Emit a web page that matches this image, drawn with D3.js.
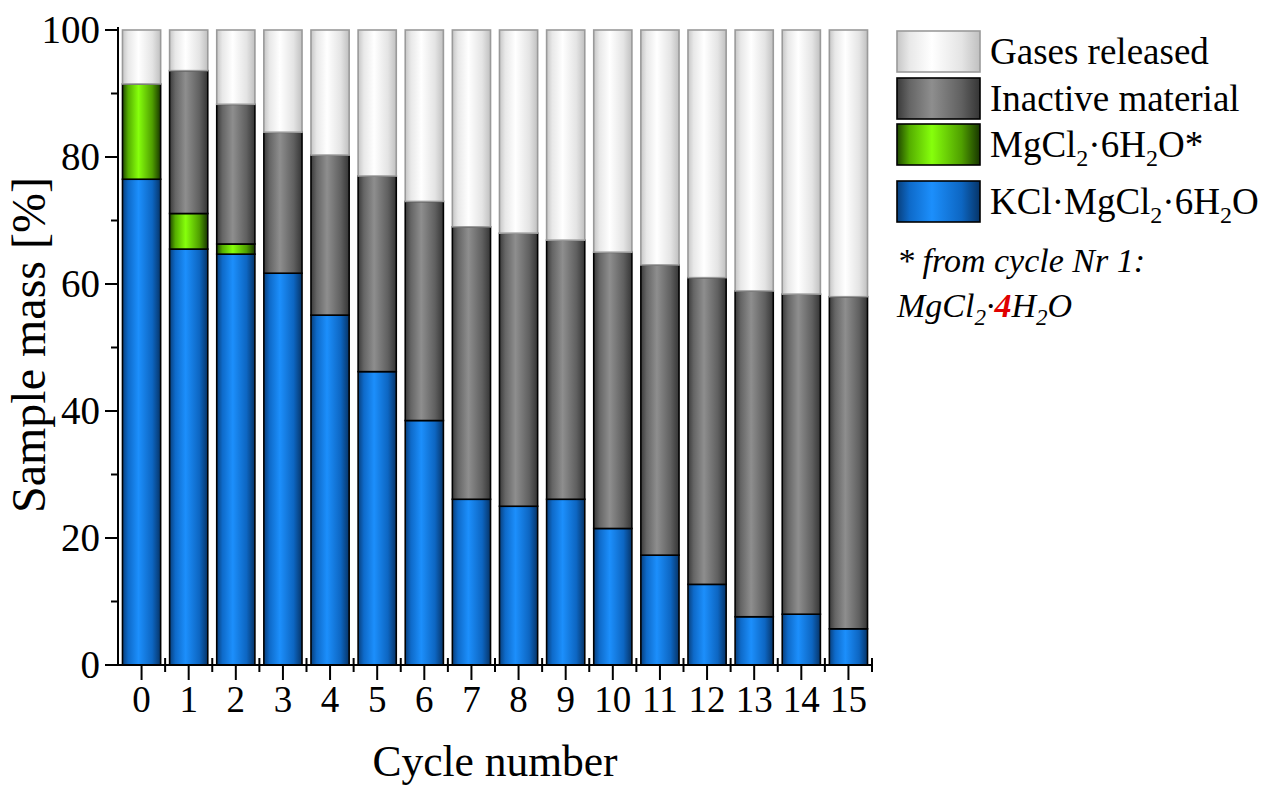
<!DOCTYPE html>
<html>
<head>
<meta charset="utf-8">
<script src="https://cdn.jsdelivr.net/npm/d3@7"></script>
<style>
  html, body { margin: 0; padding: 0; background: #ffffff; }
  svg { display: block; font-family: "Liberation Serif", "Times New Roman", serif; }
</style>
</head>
<body>
<svg id="chart" width="1276" height="787"></svg>
<script>
// Sample mass composition per dehydration/hydration cycle [%]
const cycles   = ["0","1","2","3","4","5","6","7","8","9","10","11","12","13","14","15"];
const kcl      = [76.5, 65.5, 64.7, 61.7, 55.1, 46.2, 38.5, 26.1, 25.0, 26.1, 21.5, 17.3, 12.7, 7.6, 8.0, 5.7];
const mgcl     = [15.0, 5.6, 1.6, 0, 0, 0, 0, 0, 0, 0, 0, 0, 0, 0, 0, 0];
const inactive = [0, 22.5, 22.0, 22.2, 25.2, 30.8, 34.5, 42.9, 43.0, 40.8, 43.5, 45.7, 48.3, 51.3, 50.4, 52.3];
const gases    = [8.5, 6.4, 11.7, 16.1, 19.7, 23.0, 27.0, 31.0, 32.0, 33.1, 35.0, 37.0, 39.0, 41.1, 41.6, 42.0];
const yTicks   = [0, 20, 40, 60, 80, 100];

const keys = ["kcl", "mgcl", "inactive", "gases"];
const rows = cycles.map((c, i) => ({ cycle: c, kcl: kcl[i], mgcl: mgcl[i], inactive: inactive[i], gases: gases[i] }));

const svg = d3.select("#chart");
const plot = { left: 118, right: 872, top: 30, bottom: 665 };

const x = d3.scaleBand().domain(cycles).range([plot.left, plot.right]).paddingInner(0.19).paddingOuter(0.095);
const y = d3.scaleLinear().domain([0, 100]).range([plot.bottom, plot.top]);

// horizontal shading gives each bar a cylindrical look
const shades = {
  kcl:      ["#083f7c", "#0e6ac9", "#1c8ffc", "#0d66c2", "#063468"],
  mgcl:     ["#1f4600", "#55ae00", "#86ff0c", "#4f9f00", "#183600"],
  inactive: ["#3a3a3a", "#656565", "#8e8e8e", "#606060", "#353535"],
  gases:    ["#c6c6c6", "#e8e8e8", "#ffffff", "#e4e4e4", "#c0c0c0"]
};
const stroke = { kcl: "#000", mgcl: "#000", inactive: "#000", gases: "#9a9a9a" };
const defs = svg.append("defs");
Object.entries(shades).forEach(([k, cols]) => {
  const g = defs.append("linearGradient").attr("id", "grad-" + k)
    .attr("x1", "0%").attr("x2", "100%").attr("y1", "0%").attr("y2", "0%");
  [0, 0.15, 0.42, 0.78, 1].forEach((o, i) => g.append("stop").attr("offset", o).attr("stop-color", cols[i]));
});

const stacked = d3.stack().keys(keys)(rows);

const layers = svg.append("g").selectAll("g").data(stacked).join("g")
  .attr("fill", d => `url(#grad-${d.key})`)
  .attr("stroke", d => stroke[d.key])
  .attr("stroke-width", 1.6);

layers.selectAll("rect")
  .data(d => d.filter(s => s[1] - s[0] > 0))
  .join("rect")
  .attr("x", d => x(d.data.cycle))
  .attr("width", x.bandwidth())
  .attr("y", d => y(d[1]))
  .attr("height", d => y(d[0]) - y(d[1]));

// Y axis
const yAxis = svg.append("g").attr("transform", `translate(${plot.left},0)`);
yAxis.append("line").attr("x1", 0).attr("x2", 0).attr("y1", plot.top - 3).attr("y2", plot.bottom + 1)
  .attr("stroke", "#000").attr("stroke-width", 2);
const yMinor = d3.range(10, 100, 20);
yAxis.selectAll(".minor").data(yMinor).join("line").attr("class", "minor")
  .attr("x1", -7).attr("x2", 0).attr("y1", d => y(d)).attr("y2", d => y(d))
  .attr("stroke", "#000").attr("stroke-width", 2);
yAxis.selectAll(".major").data(yTicks).join("line").attr("class", "major")
  .attr("x1", -13).attr("x2", 0).attr("y1", d => y(d)).attr("y2", d => y(d))
  .attr("stroke", "#000").attr("stroke-width", 2);
yAxis.selectAll("text").data(yTicks).join("text")
  .attr("x", -18).attr("y", d => y(d)).attr("dy", "0.34em")
  .attr("text-anchor", "end").attr("font-size", 39).attr("fill", "#000")
  .text(d => d);

// X axis
const xAxis = svg.append("g").attr("transform", `translate(0,${plot.bottom})`);
xAxis.append("line").attr("x1", plot.left - 1).attr("x2", plot.right).attr("y1", 0).attr("y2", 0)
  .attr("stroke", "#000").attr("stroke-width", 2);
const step = x.step();
const bounds = d3.range(1, cycles.length + 1).map(i => plot.left + i * step);
xAxis.selectAll(".minor").data(bounds).join("line").attr("class", "minor")
  .attr("x1", d => d).attr("x2", d => d).attr("y1", -7).attr("y2", 7)
  .attr("stroke", "#000").attr("stroke-width", 2);
xAxis.selectAll(".major").data(cycles).join("line").attr("class", "major")
  .attr("x1", d => x(d) + x.bandwidth() / 2).attr("x2", d => x(d) + x.bandwidth() / 2)
  .attr("y1", 0).attr("y2", 15)
  .attr("stroke", "#000").attr("stroke-width", 2);
xAxis.selectAll("text").data(cycles).join("text")
  .attr("x", d => x(d) + x.bandwidth() / 2).attr("y", 47)
  .attr("text-anchor", "middle").attr("font-size", 37).attr("fill", "#000")
  .text(d => d);

// Axis titles
svg.append("text").attr("x", 495).attr("y", 776).attr("text-anchor", "middle")
  .attr("font-size", 43.5).text("Cycle number");
svg.append("text").attr("transform", "translate(45,345) rotate(-90)").attr("text-anchor", "middle")
  .attr("font-size", 48).text("Sample mass [%]");

// Legend
const legendItems = [
  { key: "gases", y: 31, parts: [["Gases released", 0]] },
  { key: "inactive", y: 78, parts: [["Inactive material", 0]] },
  { key: "mgcl", y: 124, parts: [["MgCl", 0], ["2", 1], ["·6H", 0], ["2", 1], ["O*", 0]] },
  { key: "kcl", y: 181, parts: [["KCl·MgCl", 0], ["2", 1], ["·6H", 0], ["2", 1], ["O", 0]] }
];
const lg = svg.append("g");
legendItems.forEach(it => {
  lg.append("rect").attr("x", 897).attr("y", it.y).attr("width", 83).attr("height", 41)
    .attr("fill", `url(#grad-${it.key})`).attr("stroke", stroke[it.key]).attr("stroke-width", 1.6);
  const t = lg.append("text").attr("x", 990).attr("y", it.y + 33).attr("font-size", 37);
  let sub = 0;
  it.parts.forEach(([s, isSub]) => {
    const shift = isSub ? 9 : (sub ? -9 : 0);
    t.append("tspan").attr("dy", shift).attr("font-size", isSub ? 24 : 37).text(s);
    sub = isSub;
  });
});

// Footnote on the hydrate form
const fn = svg.append("g").attr("font-style", "italic").attr("font-size", 34);
fn.append("text").attr("x", 897).attr("y", 272).text("* from cycle Nr 1:");
const f2 = fn.append("text").attr("x", 897).attr("y", 317);
f2.append("tspan").text("MgCl");
f2.append("tspan").attr("dy", 8).attr("font-size", 23).text("2");
f2.append("tspan").attr("dy", -8).text("·");
f2.append("tspan").attr("fill", "#e00000").attr("font-weight", "bold").text("4");
f2.append("tspan").text("H");
f2.append("tspan").attr("dy", 8).attr("font-size", 23).text("2");
f2.append("tspan").attr("dy", -8).text("O");
</script>
</body>
</html>
